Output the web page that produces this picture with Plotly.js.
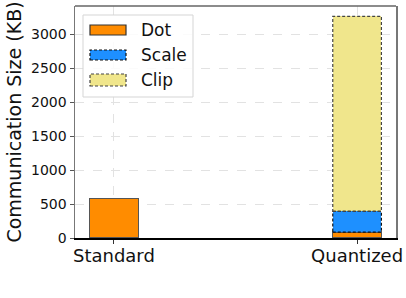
<!DOCTYPE html>
<html><head><meta charset="utf-8">
<script src="https://cdn.plot.ly/plotly-3.0.1.min.js"></script>
<style>html,body{margin:0;padding:0;background:#fff}#chart{width:406px;height:298px}</style>
</head><body><div id="chart"></div>
<script>
const categories = ['Standard', 'Quantized'];
const dotValues = [580, 88];
const scaleValues = [0, 304];
const clipValues = [0, 2876];
const seriesNames = ['Dot', 'Scale', 'Clip'];
const yTicks = [0, 500, 1000, 1500, 2000, 2500, 3000];

const colors = {Dot: '#FF8C00', Scale: '#1E90FF', Clip: '#F0E68C'};
const barWidth = 0.2;
const W = 406, H = 298;
const M = {l: 75, r: 10, t: 6, b: 60};
const pw = W - M.l - M.r, ph = H - M.t - M.b;
const px = v => (v - M.l) / pw;
const py = v => (H - M.b - v) / ph;
const font = 'DejaVu Sans';
const dashPat = '3px,2px';

const series = [dotValues, scaleValues, clipValues];
const traces = seriesNames.map((name, i) => ({
  type: 'bar', name: name, x: categories, y: series[i],
  width: barWidth,
  marker: {color: colors[name], line: {width: i === 0 ? 1.2 : 0, color: '#555'}},
  showlegend: false, hoverinfo: 'skip'
}));

// dashed outlines for Scale and Clip segments, derived from data
const shapes = [];
for (let c = 0; c < categories.length; c++) {
  let base = dotValues[c];
  [[scaleValues, '#111'], [clipValues, '#444']].forEach(([arr, col]) => {
    if (arr[c] > 0) {
      shapes.push({type: 'rect', xref: 'x', yref: 'y',
        x0: c - barWidth / 2, x1: c + barWidth / 2, y0: base, y1: base + arr[c],
        line: {color: col, width: 1.2, dash: dashPat}, fillcolor: 'rgba(0,0,0,0)', layer: 'above'});
    }
    base += arr[c];
  });
}
// top border
shapes.push({type: 'line', xref: 'paper', yref: 'paper', x0: 0, x1: 1, y0: 1, y1: 1,
  line: {color: '#666', width: 1.5}});

// custom legend
shapes.push({type: 'rect', xref: 'paper', yref: 'paper', x0: px(83), x1: px(193), y0: py(97), y1: py(15),
  line: {color: '#d5d5d5', width: 1}, fillcolor: 'rgba(255,255,255,0.85)', layer: 'above'});
const annotations = [];
const rows = [[25, 35, '#333', 'solid'], [50, 60, '#111', dashPat], [74, 86, '#444', dashPat]];
seriesNames.forEach((name, i) => {
  const [a, b, lc, d] = rows[i];
  shapes.push({type: 'rect', xref: 'paper', yref: 'paper', x0: px(90), x1: px(126), y0: py(b), y1: py(a),
    line: {color: lc, width: 1.2, dash: d}, fillcolor: colors[name], layer: 'above'});
  annotations.push({xref: 'paper', yref: 'paper', x: px(139), y: py((a + b) / 2), text: name,
    showarrow: false, xanchor: 'left', yanchor: 'middle', font: {family: font, size: 17, color: '#111'}});
});

const layout = {
  width: W, height: H, margin: M,
  paper_bgcolor: '#fff', plot_bgcolor: '#fff',
  barmode: 'stack', bargap: 0,
  font: {family: font, color: '#111'},
  xaxis: {
    type: 'category', range: [-0.16, 1.16], tickvals: categories, ticktext: categories,
    showgrid: true, gridcolor: '#e2e2e2', griddash: 'dash', gridwidth: 1,
    showline: true, linecolor: '#000', linewidth: 1.5,
    ticks: 'outside', ticklen: 4, tickcolor: '#333', tickwidth: 1, ticklabelstandoff: -3,
    tickfont: {family: font, size: 18, color: '#111'}, zeroline: false
  },
  yaxis: {
    range: [0, 3420], tickvals: yTicks, ticktext: yTicks.map(String),
    showgrid: true, gridcolor: '#e2e2e2', griddash: 'dash', gridwidth: 1,
    showline: true, linecolor: '#777', linewidth: 1.5, mirror: true,
    ticks: 'outside', ticklen: 4, tickcolor: '#555', tickwidth: 1,
    tickfont: {family: font, size: 14, color: '#111'}, zeroline: false,
    title: {text: 'Communication Size (KB)', font: {family: font, size: 19, color: '#111'}, standoff: 4}
  },
  shapes: shapes, annotations: annotations
};
Plotly.newPlot('chart', traces, layout, {staticPlot: true, displayModeBar: false});
</script></body></html>
